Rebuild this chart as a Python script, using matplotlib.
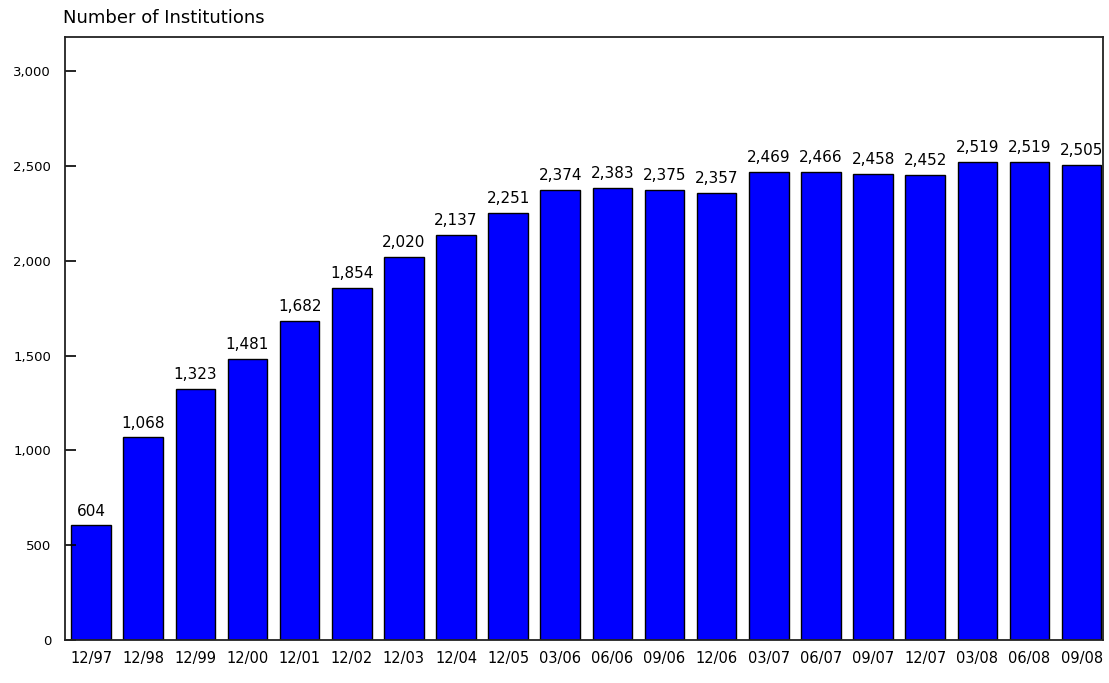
import matplotlib
matplotlib.use("Agg")
import matplotlib.pyplot as plt

categories = ["12/97", "12/98", "12/99", "12/00", "12/01", "12/02", "12/03", "12/04",
              "12/05", "03/06", "06/06", "09/06", "12/06", "03/07", "06/07", "09/07",
              "12/07", "03/08", "06/08", "09/08"]
values = [604, 1068, 1323, 1481, 1682, 1854, 2020, 2137, 2251, 2374, 2383, 2375,
          2357, 2469, 2466, 2458, 2452, 2519, 2519, 2505]
ytick_values = [0, 500, 1000, 1500, 2000, 2500, 3000]
ytick_labels = ["0", "500", "1,000", "1,500", "2,000", "2,500", "3,000"]
title = "Number of Institutions"

plt.rcParams['font.family'] = ['DejaVu Sans']

fig = plt.figure(figsize=(11.09, 6.83), dpi=100)
ax = fig.add_axes([65/1109, 1-640/683, (1103-65)/1109, (640-37)/683])

x = list(range(len(categories)))
ax.bar(x, values, width=0.76, color="#0000FF", edgecolor="black", linewidth=1.0)

for xi, v in zip(x, values):
    ax.annotate(f"{v:,}", (xi, v), xytext=(0, 5), textcoords="offset points",
                ha="center", va="bottom", fontsize=11)

ax.set_xlim(-0.5, len(categories) - 1 + 0.41)
ax.set_ylim(0, 3180)
ax.set_yticks(ytick_values)
ax.set_yticklabels(ytick_labels, fontsize=9.5)
ax.set_xticks(x)
ax.set_xticklabels(categories, fontsize=10.5)
ax.tick_params(axis="y", direction="in", length=8, width=1.2, pad=10)
ax.tick_params(axis="x", length=0, pad=8)
for s in ax.spines.values():
    s.set_linewidth(1.3)
    s.set_color("#222222")

fig.text(63/1109, 1-18/683, title, ha="left", va="center", fontsize=13)

fig.savefig("out.png", dpi=100)
